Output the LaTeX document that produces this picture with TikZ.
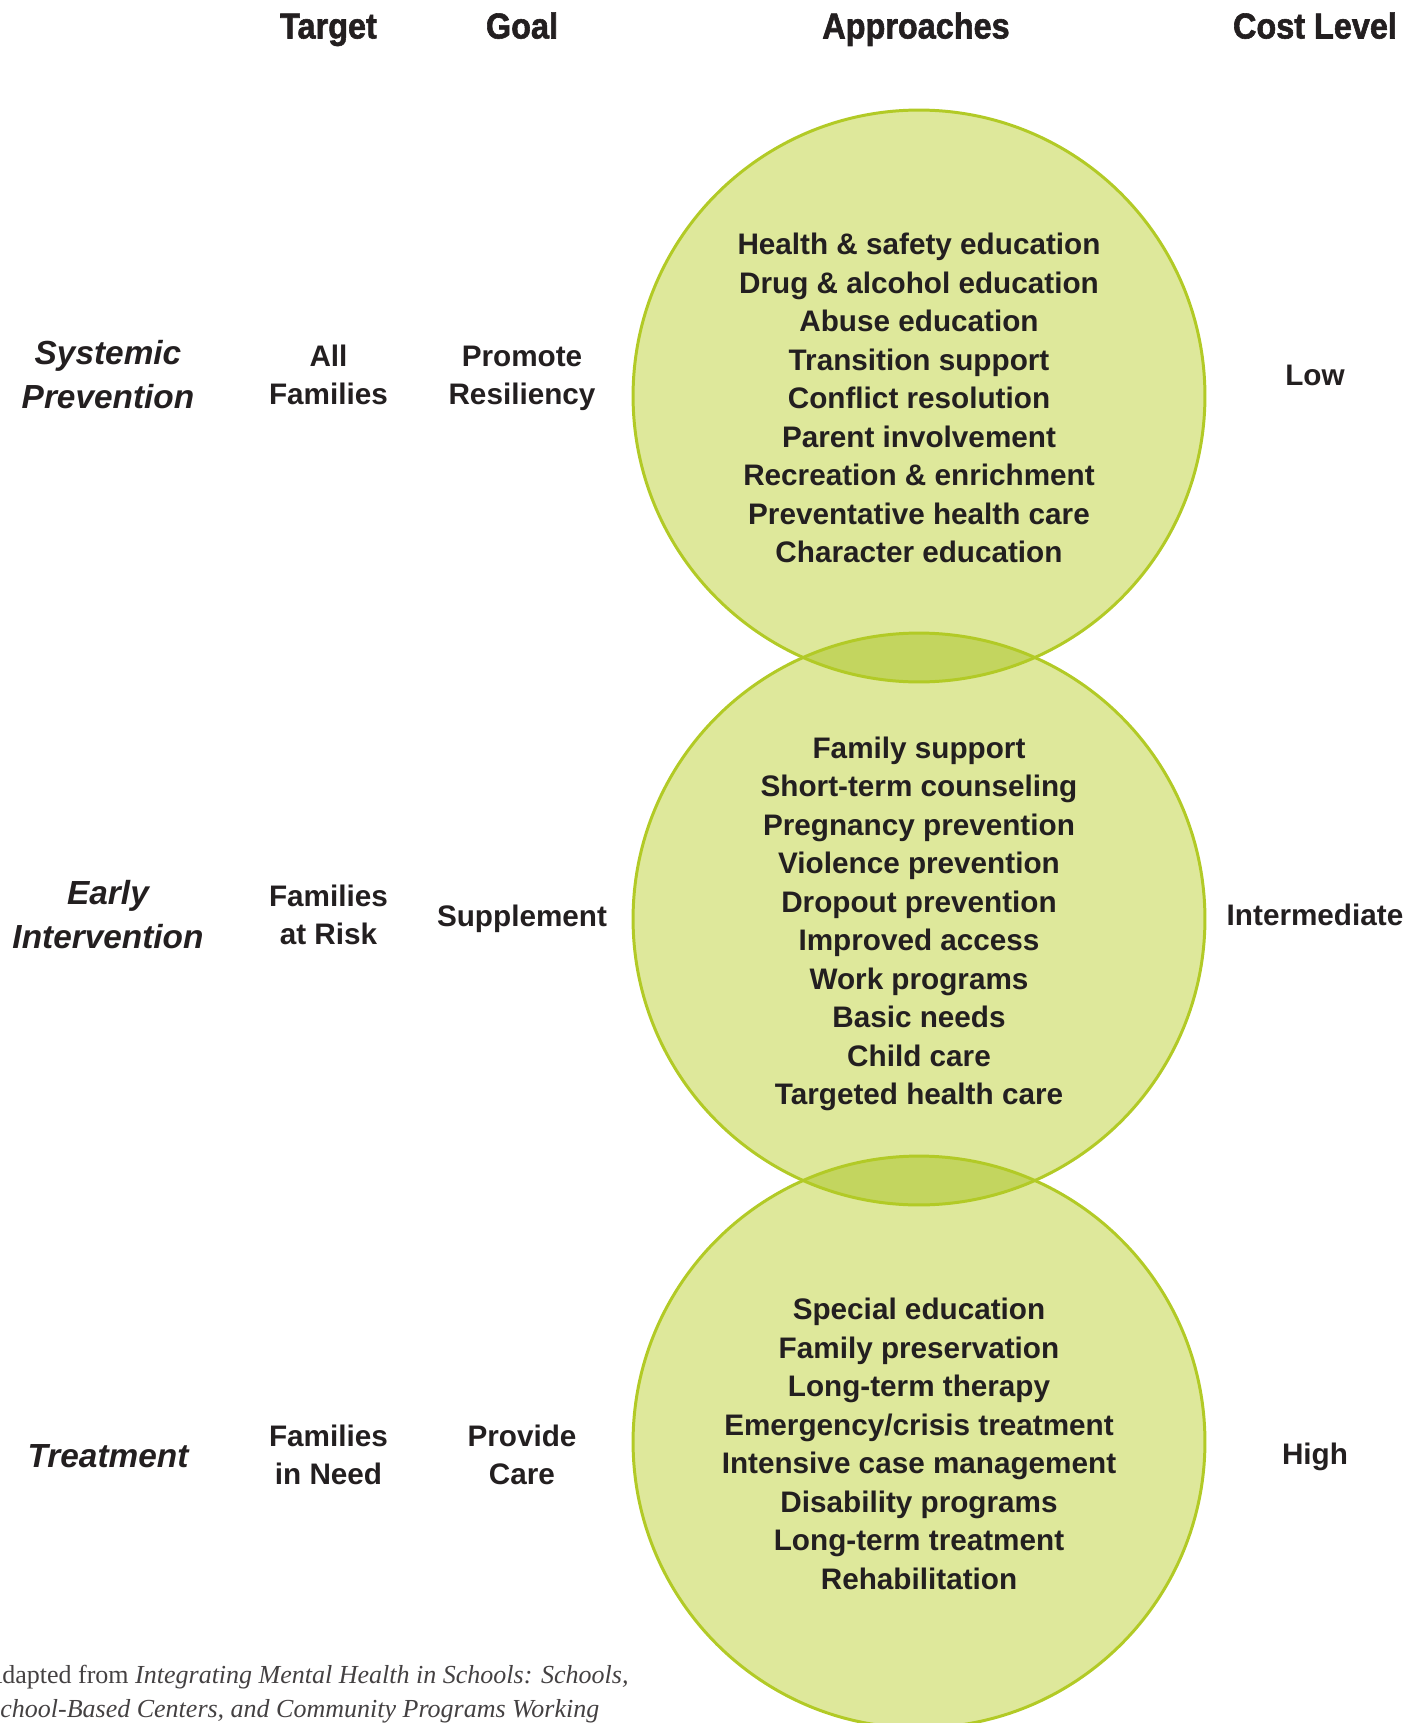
\documentclass[tikz,border=0pt]{standalone}
\usepackage{fontspec}
\setmainfont{Liberation Sans}
\newfontfamily\headfont[FakeStretch=0.9, FakeBold=1.6]{Liberation Sans Bold}
\newfontfamily\capfont{Liberation Serif}
\definecolor{ink}{RGB}{35,31,32}
\definecolor{leaf}{RGB}{222,232,155}
\definecolor{lens}{RGB}{195,213,95}
\definecolor{rim}{RGB}{178,202,38}
\tikzset{
	head/.style={font=\headfont\fontsize{20.5}{24}\selectfont, text=ink, anchor=base},
	tier/.style={font=\bfseries\itshape\fontsize{19}{25}\selectfont, align=center, text=ink},
	cell/.style={font=\bfseries\fontsize{16.9}{21.9}\selectfont, align=center, text=ink},
	ring/.style={line width=1.7pt, draw=rim},
	source/.style={font=\capfont\fontsize{14.8}{19}\selectfont, text=ink!85, anchor=base west, inner sep=0pt}
}

\begin{document}
\begin{tikzpicture}[x=0.02cm, y=-0.02cm]
			%%%%% START %%%%%
			
			\useasboundingbox (0, 0) rectangle (1424, 1723);
			
			\fill[leaf] (919, 396) circle[radius=5.72cm];
			\fill[leaf] (919, 919) circle[radius=5.72cm];
			\fill[leaf] (919, 1442) circle[radius=5.72cm];
			
			\begin{scope}
				\clip (919, 396) circle[radius=5.72cm];
				\fill[lens] (919, 919) circle[radius=5.72cm];
			\end{scope}
			\begin{scope}
				\clip (919, 919) circle[radius=5.72cm];
				\fill[lens] (919, 1442) circle[radius=5.72cm];
			\end{scope}
			
			\draw[ring] (919, 396) circle[radius=5.72cm];
			\draw[ring] (919, 919) circle[radius=5.72cm];
			\draw[ring] (919, 1442) circle[radius=5.72cm];
			
			\node[head] (target) at (328.5, 38.5) {Target};
			\node[head] (goal) at (522, 38.5) {Goal};
			\node[head] (approaches) at (916, 38.5) {Approaches};
			\node[head] (cost) at (1315, 38.5) {Cost Level};
			
			\node[tier] (systemic) at (108, 375) {Systemic\\Prevention};
			\node[cell] (allfam) at (328.5, 375) {All\\Families};
			\node[cell] (resilient) at (522, 378.5) {Promote\\Resiliency};
			\node[cell] (low) at (1315, 375) {Low};
			\node[cell] (prevlist) at (919, 398) {Health \& safety education\\Drug \& alcohol education\\Abuse education\\Transition support\\Conflict resolution\\Parent involvement\\Recreation \& enrichment\\Preventative health care\\Character education};
			
			\node[tier] (early) at (108, 915) {Early\\Intervention};
			\node[cell] (atrisk) at (328.5, 915) {Families\\at Risk};
			\node[cell] (supplement) at (522, 918.5) {Supplement};
			\node[cell] (mid) at (1315, 915) {Intermediate};
			\node[cell] (earlylist) at (919, 924) {Family support\\Short-term counseling\\Pregnancy prevention\\Violence prevention\\Dropout prevention\\Improved access\\Work programs\\Basic needs\\Child care\\Targeted health care};
			
			\node[tier] (treatment) at (108, 1456) {Treatment};
			\node[cell] (inneed) at (328.5, 1455) {Families\\in Need};
			\node[cell] (care) at (522, 1455) {Provide\\Care};
			\node[cell] (high) at (1315, 1457) {High};
			\node[cell] (treatlist) at (919, 1444) {Special education\\Family preservation\\Long-term therapy\\Emergency/crisis treatment\\Intensive case management\\Disability programs\\Long-term treatment\\Rehabilitation};
			
			\node[source] (src1) at (2, 1683) {\llap{A}dapted from \textit{Integrating Mental Health in Schools: Schools,}};
			\node[source] (src2) at (0, 1717) {\llap{S}\textit{chool-Based Centers, and Community Programs Working}};
			
			%%%%% END %%%%%
\end{tikzpicture}
\end{document}
